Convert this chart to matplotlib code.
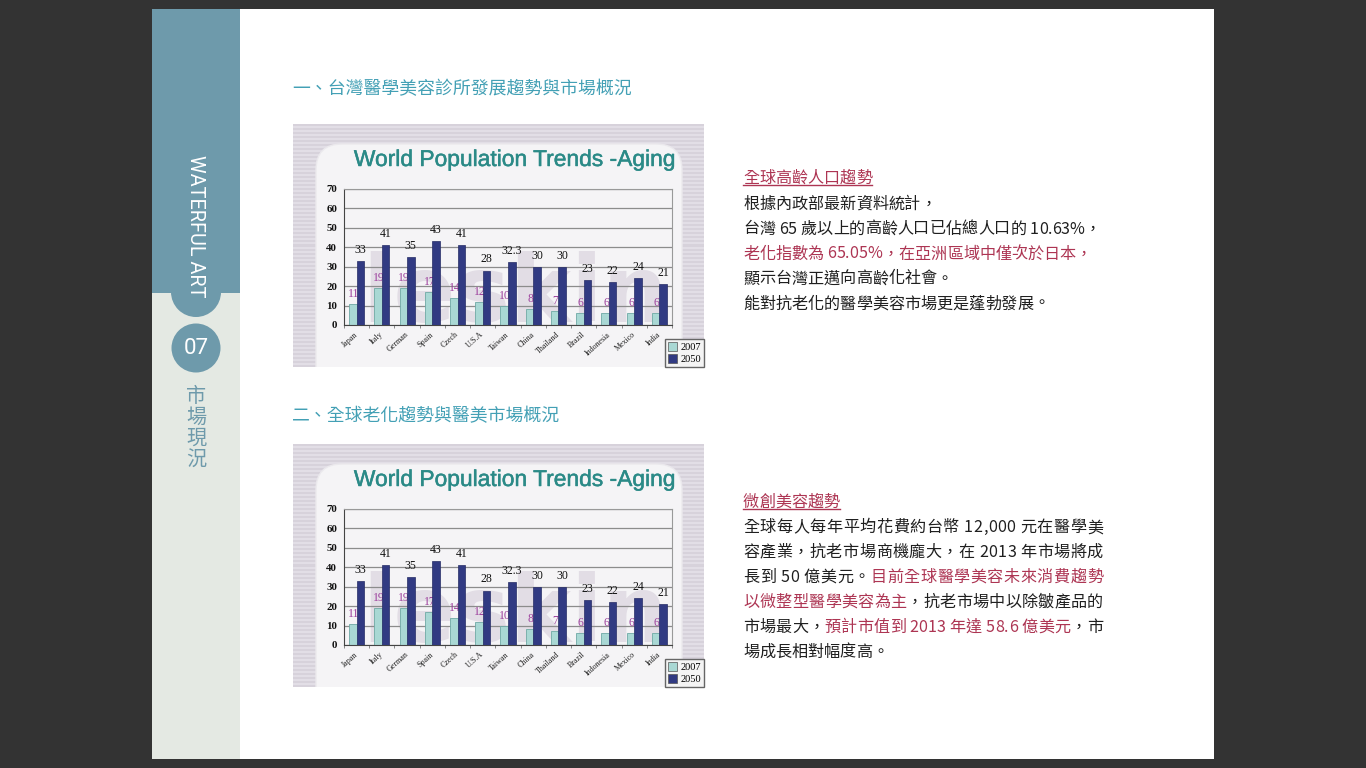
import numpy as np
import matplotlib
matplotlib.use("Agg")
import matplotlib.pyplot as plt
import matplotlib.patheffects as pe
from matplotlib.patches import Rectangle, Circle, FancyBboxPatch, Wedge

# ---------------- data ----------------
countries = ["Japan", "Italy", "German", "Spain", "Czech", "U.S.A", "Taiwan",
             "China", "Thailand", "Brazil", "Indonesia", "Mexico", "India"]
pop_2007 = [11, 19, 19, 17, 14, 12, 10, 8, 7, 6, 6, 6, 6]
pop_2050 = [33, 41, 35, 43, 41, 28, 32.3, 30, 30, 23, 22, 24, 21]
y_ticks = [0, 10, 20, 30, 40, 50, 60, 70]
series_labels = ["2007", "2050"]
chart_title = "World Population Trends -Aging"
watermark = "leskin"

heading_1 = "一、台灣醫學美容診所發展趨勢與市場概況"
heading_2 = "二、全球老化趨勢與醫美市場概況"
sidebar_brand = "WATERFUL ART"
sidebar_num = "07"
sidebar_title = "市場現況"

K = "#1f1f1f"
R = "#ad3553"
block1_title = "全球高齡人口趨勢"
block1_lines = [
    [("根據內政部最新資料統計，", K)],
    [("台灣 65 歲以上的高齡人口已佔總人口的 10.63%，", K)],
    [("老化指數為 65.05%，在亞洲區域中僅次於日本，", R)],
    [("顯示台灣正邁向高齡化社會。", K)],
    [("能對抗老化的醫學美容市場更是蓬勃發展。", K)],
]
block2_title = "微創美容趨勢"
block2_lines = [
    [("全球每人每年平均花費約台幣 12,000 元在醫學美", K)],
    [("容產業，抗老市場商機龐大，在 2013 年市場將成", K)],
    [("長到 50 億美元。", K), ("目前全球醫學美容未來消費趨勢", R)],
    [("以微整型醫學美容為主", R), ("，抗老市場中以除皺產品的", K)],
    [("市場最大，", K), ("預計市值到 2013 年達 58.6 億美元", R), ("，市", K)],
    [("場成長相對幅度高。", K)],
]
block2_justify = [True, True, True, True, True, False]

# ---------------- figure ----------------
W, H = 1366, 768
fig = plt.figure(figsize=(W / 100, H / 100), dpi=100)
fig.patch.set_facecolor("#333333")
bg = fig.add_axes([0, 0, 1, 1])
bg.set_xlim(0, W)
bg.set_ylim(H, 0)
bg.axis("off")
renderer = fig.canvas.get_renderer()

CJK = ["Noto Sans CJK TC", "DejaVu Sans"]
LAT = ["Roboto", "DejaVu Sans"]
TEAL = "#6e9aab"

# page
bg.add_patch(Rectangle((152, 9), 1062, 750, fc="white", ec="none", zorder=1))
# sidebar
bg.add_patch(Rectangle((152, 292), 88, 467, fc="#e4e9e3", ec="none", zorder=1.1))
bg.add_patch(Rectangle((152, 9), 88, 283.5, fc=TEAL, ec="none", zorder=1.2))
bg.add_patch(Wedge((196, 292), 25, 0, 180, fc=TEAL, ec="none", zorder=1.2))
bg.add_patch(Circle((196, 348), 24.5, fc=TEAL, ec="none", zorder=1.2))


def fit_width(t, target):
    w = t.get_window_extent(renderer).width
    t.set_fontsize(t.get_fontsize() * target / w)


bg.text(196.5, 348.5, sidebar_num, color="white", fontsize=16, ha="center", va="center",
        family=LAT, zorder=3)
tb = bg.text(196, 226, sidebar_brand, rotation=-90, color="white", fontsize=14,
             ha="center", va="center", family=LAT, zorder=3)
ext = tb.get_window_extent(renderer)
tb.set_fontsize(tb.get_fontsize() * 142 / ext.height)
for i, ch in enumerate(sidebar_title):
    bg.text(196, 396 + i * 21, ch, ha="center", va="center", fontsize=14.5,
            color=TEAL, family=CJK, zorder=3)

# headings
HEAD = "#43a0b5"
h1 = bg.text(292, 89.5, heading_1, va="center", ha="left", fontsize=12.2, color=HEAD,
             family=CJK, fontweight="medium", zorder=3)
fit_width(h1, 338)
bg.text(292, 416.5, heading_2, va="center", ha="left", fontsize=h1.get_fontsize(),
        color=HEAD, family=CJK, fontweight="medium", zorder=3)

# ---------------- rich text ----------------
_cache = {}
TW = "medium"


def adv(ch, size):
    key = (ch, size)
    if key not in _cache:
        t1 = bg.text(0, 0, "中" + ch + "中", fontsize=size, family=CJK, fontweight=TW)
        t2 = bg.text(0, 0, "中中", fontsize=size, family=CJK, fontweight=TW)
        w = t1.get_window_extent(renderer).width - t2.get_window_extent(renderer).width
        t1.remove()
        t2.remove()
        _cache[key] = w
    return _cache[key]


def rich_line(x, y, segments, size, width=None):
    chars = [(ch, col) for seg, col in segments for ch in seg]
    advs = [adv(ch, size) for ch, _ in chars]
    gap = 0.0
    if width is not None and len(chars) > 1:
        gap = (width - sum(advs)) / (len(chars) - 1)
    cx = x
    for (ch, col), a in zip(chars, advs):
        if ch != " ":
            bg.text(cx, y, ch, fontsize=size, family=CJK, color=col, ha="left",
                    va="baseline", fontweight=TW, zorder=3)
        cx += a + gap
    return cx


FS = 11.6
# block 1
rich_line(743, 182.5, [(block1_title, R)], FS)
bg.plot([743, 743 + len(block1_title) * adv("中", FS)], [184.5, 184.5], color=R, lw=1,
        zorder=3)
for i, line in enumerate(block1_lines):
    rich_line(743, 208.5 + 25 * i, line, FS)

# block 2
rich_line(743, 506.5, [(block2_title, R)], FS)
bg.plot([743, 743 + len(block2_title) * adv("中", FS)], [508.5, 508.5], color=R, lw=1,
        zorder=3)
for i, (line, just) in enumerate(zip(block2_lines, block2_justify)):
    rich_line(743, 532.2 + 24.9 * i, line, FS, width=360 if just else None)

# ---------------- charts ----------------
C07 = "#a9d8d4"
C50 = "#313a82"


def draw_chart(dy):
    x0, y0, x1, y1 = 293, 124 + dy, 704, 367 + dy
    n_rows = int((y1 - y0) / 2)
    stripe = np.zeros((n_rows, 1, 3))
    c1 = np.array([0xd7, 0xd2, 0xdb]) / 255
    c2 = np.array([0xe2, 0xde, 0xe6]) / 255
    for r in range(n_rows):
        stripe[r, 0] = c1 if r % 2 == 0 else c2
    bg.imshow(stripe, extent=[x0, x1, y1, y0], aspect="auto", interpolation="nearest",
              zorder=2)
    clip = Rectangle((x0, y0), x1 - x0, y1 - y0, transform=bg.transData)
    panel = FancyBboxPatch((316, 144 + dy), 366, 260,
                           boxstyle="round,pad=0,rounding_size=26",
                           fc="#f5f4f6", ec="#ebe9ed", lw=1, zorder=3)
    bg.add_patch(panel)
    panel.set_clip_path(clip)
    tt = bg.text((352 + 677) / 2, 159.5 + dy, chart_title, ha="center", va="center",
                 fontsize=14, color="#2b8a87", family="Liberation Sans", zorder=4)
    fit_width(tt, 324)
    tt.set_path_effects([pe.withStroke(linewidth=0.35, foreground="#2b8a87")])

    ax = fig.add_axes([344 / W, 1 - (325 + dy) / H, 328 / W, 136 / H])
    ax.set_facecolor("none")
    n = len(countries)
    ax.set_xlim(-0.5, n - 0.5)
    ax.set_ylim(0, 70)
    ax.set_yticks(y_ticks)
    ax.set_axisbelow(True)
    ax.yaxis.grid(True, color="#8c8c8c", lw=0.9)
    for s in ["top", "right"]:
        ax.spines[s].set_color("#999999")
    for s in ["left", "bottom"]:
        ax.spines[s].set_color("#444444")
    ax.text((n - 1) / 2 + 0.3, 1.5, watermark, ha="center", va="baseline", fontsize=66,
            fontweight="bold", color="#e2dde5", family="DejaVu Sans", zorder=0.2)
    x = np.arange(n)
    bw = 0.3
    ax.bar(x - bw / 2, pop_2007, bw, color=C07, edgecolor="#6fa9a5", lw=0.6, zorder=2)
    ax.bar(x + bw / 2, pop_2050, bw, color=C50, edgecolor="#262c66", lw=0.5, zorder=3)
    for xi, v in zip(x, pop_2007):
        ax.annotate(f"{v:g}", (xi - bw / 2 + 0.04, v), xytext=(0, 7.2),
                    textcoords="offset points", ha="center", va="center", fontsize=8.5,
                    color="#9c3e9c", family="Liberation Serif", zorder=2.5)
    for xi, v in zip(x, pop_2050):
        ax.annotate(f"{v:g}", (xi + bw / 2, v), xytext=(0, 8),
                    textcoords="offset points", ha="center", va="center", fontsize=8.5,
                    color="#111111", family="Liberation Serif", zorder=3.5)
    ax.set_xticks(x)
    ax.set_xticklabels(countries, rotation=42, ha="right", va="center",
                       rotation_mode="anchor", fontsize=5.8, family="Liberation Serif",
                       color="#222222")
    ax.set_xticks(np.arange(n + 1) - 0.5, minor=True)
    ax.tick_params(axis="x", which="major", length=0, pad=6)
    ax.tick_params(axis="x", which="minor", length=2, color="#777777")
    ax.tick_params(axis="y", length=0, pad=5, labelsize=7.8, labelcolor="#111111")
    for lab in ax.get_yticklabels():
        lab.set_family("Liberation Serif")
        lab.set_fontweight("bold")

    handles = [Rectangle((0, 0), 1, 1, fc=C07, ec="#555555", lw=0.5),
               Rectangle((0, 0), 1, 1, fc=C50, ec="#555555", lw=0.5)]
    fig.legend(handles, series_labels, loc="lower right",
               bbox_to_anchor=(704 / W, 1 - (367 + dy) / H), borderaxespad=0,
               prop={"family": "Liberation Serif", "size": 7.5}, frameon=True,
               fancybox=False, edgecolor="#666666", facecolor="#f4f4f4", framealpha=1,
               handlelength=0.9, handleheight=0.9, handletextpad=0.3, borderpad=0.3,
               labelspacing=0.15)


draw_chart(0)
draw_chart(320)

fig.savefig("out.png", dpi=100, facecolor=fig.get_facecolor())
